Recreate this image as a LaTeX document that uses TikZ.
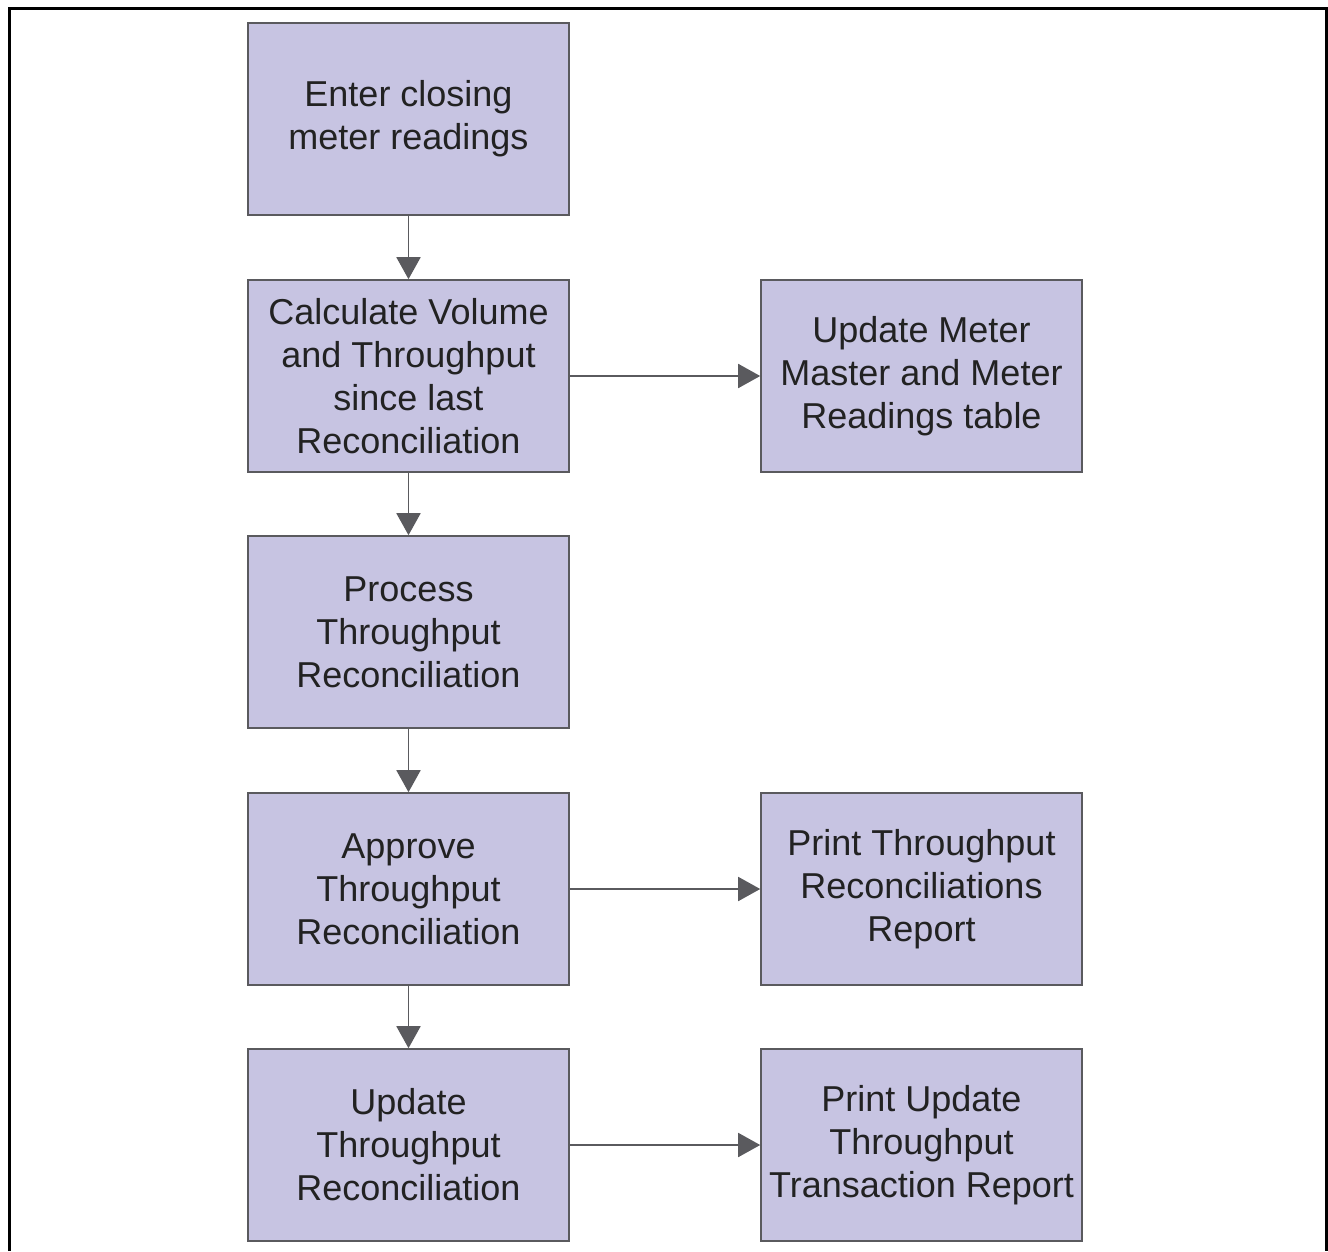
\documentclass[tikz,border=0pt]{standalone}
\usepackage{fontspec}
\setmainfont{Liberation Sans}
\usetikzlibrary{arrows.meta}
\definecolor{boxfill}{HTML}{C7C4E2}
\definecolor{boxline}{HTML}{5A5A5E}
\definecolor{textgray}{HTML}{222222}
\begin{document}
\begin{tikzpicture}[x=1pt,y=-1pt,
  stepbox/.style={draw=boxline, line width=1.6pt, fill=boxfill,
    minimum width=321pt, minimum height=192pt, inner sep=0pt,
    align=center, text=textgray,
    font=\fontsize{36}{43}\selectfont},
  flow/.style={draw=boxline, line width=1.8pt,
    -{Triangle[length=22pt,width=24pt]}}]
\useasboundingbox (0,0) rectangle (1328,1251);
% outer frame, open at the bottom
\draw[line width=3pt, black] (9,1251) -- (9,8) -- (1326,8) -- (1326,1251);
% left column
\node[stepbox] (enter) at (408.5,119) {Enter closing\\meter readings};
\node[stepbox] (calc) at (408.5,376) {Calculate Volume\\and Throughput\\since last\\Reconciliation};
\node[stepbox] (proc) at (408.5,632) {Process\\Throughput\\Reconciliation};
\node[stepbox] (appr) at (408.5,889) {Approve\\Throughput\\Reconciliation};
\node[stepbox] (upd) at (408.5,1145) {Update\\Throughput\\Reconciliation};
% right column
\node[stepbox] (meter) at (921.5,376) {Update Meter\\Master and Meter\\Readings table};
\node[stepbox] (prrec) at (921.5,889) {Print Throughput\\Reconciliations\\Report};
\node[stepbox] (prtr) at (921.5,1145) {Print Update\\Throughput\\Transaction Report};
% connectors
\draw[flow] (enter) -- (calc);
\draw[flow] (calc) -- (proc);
\draw[flow] (proc) -- (appr);
\draw[flow] (appr) -- (upd);
\draw[flow] (calc) -- (meter);
\draw[flow] (appr) -- (prrec);
\draw[flow] (upd) -- (prtr);
\end{tikzpicture}
\end{document}
